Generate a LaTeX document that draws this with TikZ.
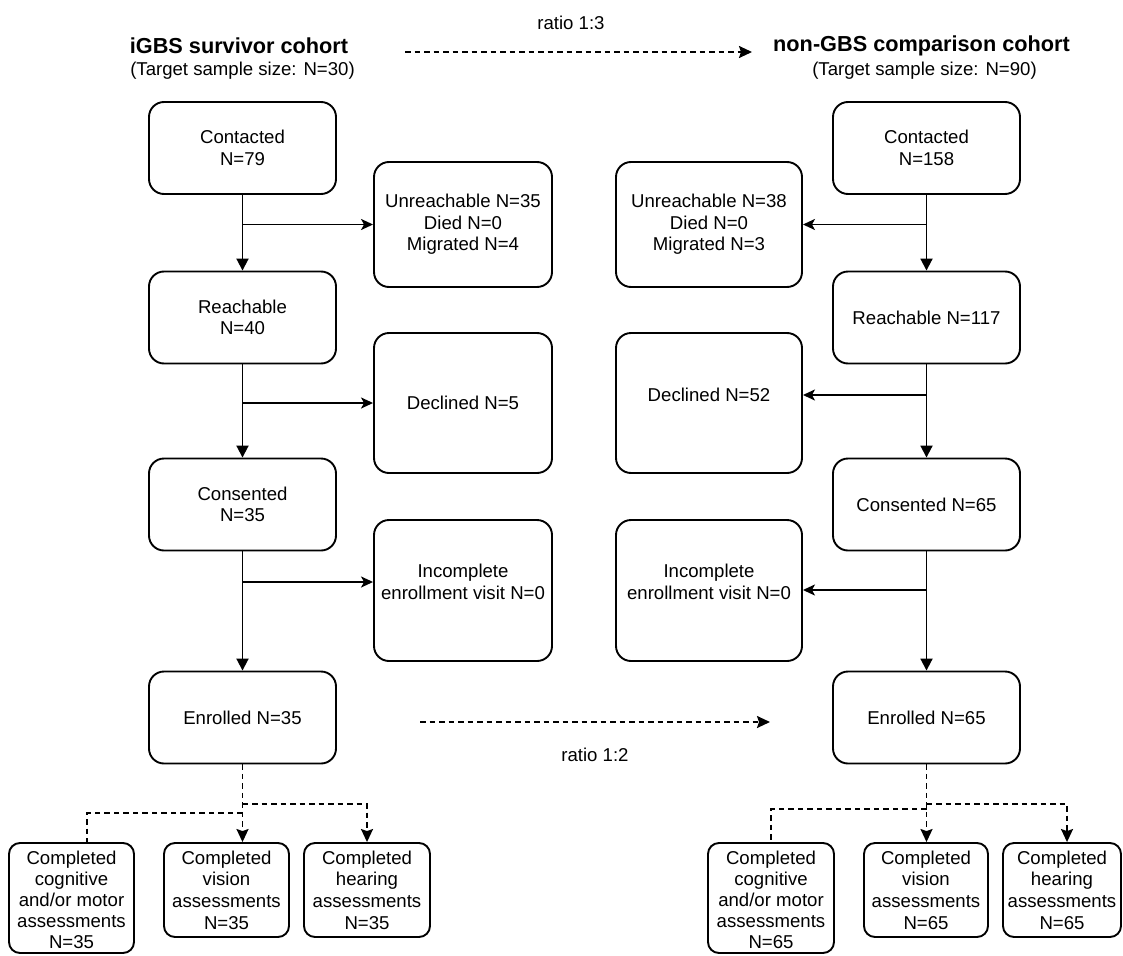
\documentclass[tikz,border=0pt]{standalone}
\usepackage{fontspec}
\setmainfont{Liberation Sans}
\usetikzlibrary{arrows.meta}
\newcommand\fs{\fontsize{18.6}{21.6}\selectfont}
\newcommand\fst{\fontsize{18.6}{21}\selectfont}
\newcommand\hs{\fontsize{21.7}{25}\selectfont\bfseries}
\begin{document}
\begin{tikzpicture}[x=1pt,y=-1pt,
  box/.style={draw,line width=1.9pt,rounded corners=15pt,align=center,font=\fs,inner sep=0pt},
  mainbox/.style={box,minimum width=187pt,minimum height=92pt},
  sidebox/.style={box,minimum width=178pt},
  smallbox/.style={box,rounded corners=11pt,minimum width=125pt},
  txt/.style={align=center,inner sep=0pt},
  link/.style={line width=1.9pt},
  down/.style={link,-{Triangle[length=12pt,width=12pt]}},
  side/.style={link,-{Stealth[length=12pt,width=11pt,inset=3pt]}},
  dashline/.style={line width=1.9pt,dash pattern=on 5.5pt off 4pt},
  dashar/.style={dashline,-{Stealth[length=13pt,width=12pt,inset=2pt]}}]
\useasboundingbox (0,0) rectangle (1123,955);
% headers
\node[txt,font=\hs] (lt) at (239,46) {iGBS survivor cohort};
\node[txt,font=\fs] (ls) at (242.5,71) {(Target sample size: N=30)};
\node[txt,font=\hs] (rt) at (921.5,46) {non-GBS comparison cohort};
\node[txt,font=\fs] (rs) at (924.5,71) {(Target sample size: N=90)};
\node[txt,font=\fs] (r13) at (571,23) {ratio 1:3};
\node[txt,font=\fs] (r12) at (595,755) {ratio 1:2};
\coordinate (a1) at (405,52);
\coordinate (a2) at (752,52);
\coordinate (b1) at (420,722);
\coordinate (b2) at (770,722);
\draw[dashar] (a1) -- (a2);
\draw[dashar] (b1) -- (b2);
% left column
\node[mainbox] (L1) at (242.5,148) {Contacted\\N=79};
\node[mainbox] (L2) at (242.5,317.5) {Reachable\\N=40};
\node[mainbox] (L3) at (242.5,504.5) {Consented\\N=35};
\node[mainbox] (L4) at (242.5,717.5) {Enrolled N=35};
\node[sidebox,minimum height=125pt] (LU) at (463,224.5) {Unreachable N=35\\Died N=0\\Migrated N=4};
\node[sidebox,minimum height=140pt] (LD) at (463,403) {Declined N=5};
\node[sidebox,minimum height=141pt,label={[txt,font=\fs,yshift=8.5pt]center:Incomplete\\enrollment visit N=0}] (LI) at (463,590.5) {};
% right column
\node[mainbox] (R1) at (926.5,148) {Contacted\\N=158};
\node[mainbox] (R2) at (926.5,317.5) {Reachable N=117};
\node[mainbox] (R3) at (926.5,504.5) {Consented N=65};
\node[mainbox] (R4) at (926.5,717.5) {Enrolled N=65};
\node[sidebox,minimum width=186pt,minimum height=125pt] (RU) at (709,224.5) {Unreachable N=38\\Died N=0\\Migrated N=3};
\node[sidebox,minimum width=186pt,minimum height=140pt,label={[txt,font=\fs,yshift=8pt]center:Declined N=52}] (RD) at (709,403) {};
\node[sidebox,minimum width=186pt,minimum height=141pt,label={[txt,font=\fs,yshift=8.5pt]center:Incomplete\\enrollment visit N=0}] (RI) at (709,590.5) {};
% bottom boxes
\node[smallbox,minimum height=110pt,label={[txt,font=\fst,yshift=-2pt]center:Completed\\cognitive\\and/or motor\\assessments\\N=35}] (LC) at (71.5,898) {};
\node[smallbox,minimum height=94pt] (LV) at (226.5,890) {Completed\\vision\\assessments\\N=35};
\node[smallbox,minimum width=126pt,minimum height=94pt] (LH) at (367,890) {Completed\\hearing\\assessments\\N=35};
\node[smallbox,minimum width=126pt,minimum height=110pt,label={[txt,font=\fst,yshift=-2pt]center:Completed\\cognitive\\and/or motor\\assessments\\N=65}] (RC) at (771,898) {};
\node[smallbox,minimum width=124pt,minimum height=94pt] (RV) at (926,890) {Completed\\vision\\assessments\\N=65};
\node[smallbox,minimum width=118pt,minimum height=94pt] (RH) at (1062,890) {Completed\\hearing\\assessments\\N=65};
% left connectors
\draw[down] (L1) -- (L2);
\draw[down] (L2) -- (L3);
\draw[down] (L3) -- (L4);
\coordinate (lb1) at (L1.south |- LU.west);
\coordinate (lb2) at (L2.south |- LD.west);
\coordinate (lb3) at (242.5,582);
\draw[side] (lb1) -- (LU.west);
\draw[side] (lb2) -- (LD.west);
\draw[side] (lb3) -- (lb3 -| LI.west);
% right connectors
\draw[down] (R1) -- (R2);
\draw[down] (R2) -- (R3);
\draw[down] (R3) -- (R4);
\coordinate (rb1) at (R1.south |- RU.east);
\coordinate (rb2) at (926.5,395);
\coordinate (rb3) at (926.5,590);
\draw[side] (rb1) -- (RU.east);
\draw[side] (rb2) -- (rb2 -| RD.east);
\draw[side] (rb3) -- (rb3 -| RI.east);
% bottom dashed connectors, left
\draw[dashar] (L4.south) -- (L4.south |- LV.north);
\coordinate (lj1) at (242.5,804);
\coordinate (lj2) at (242.5,813);
\draw[dashar] (lj1) -| (LH.north);
\draw[dashline] (lj2) -| ([xshift=15.5pt]LC.north);
% bottom dashed connectors, right
\draw[dashar] (R4.south) -- (R4.south |- RV.north);
\coordinate (rj1) at (926.5,804);
\coordinate (rj2) at (926.5,809);
\draw[dashar] (rj1) -| ([xshift=5pt]RH.north);
\draw[dashline] (rj2) -| (RC.north);
\end{tikzpicture}
\end{document}
